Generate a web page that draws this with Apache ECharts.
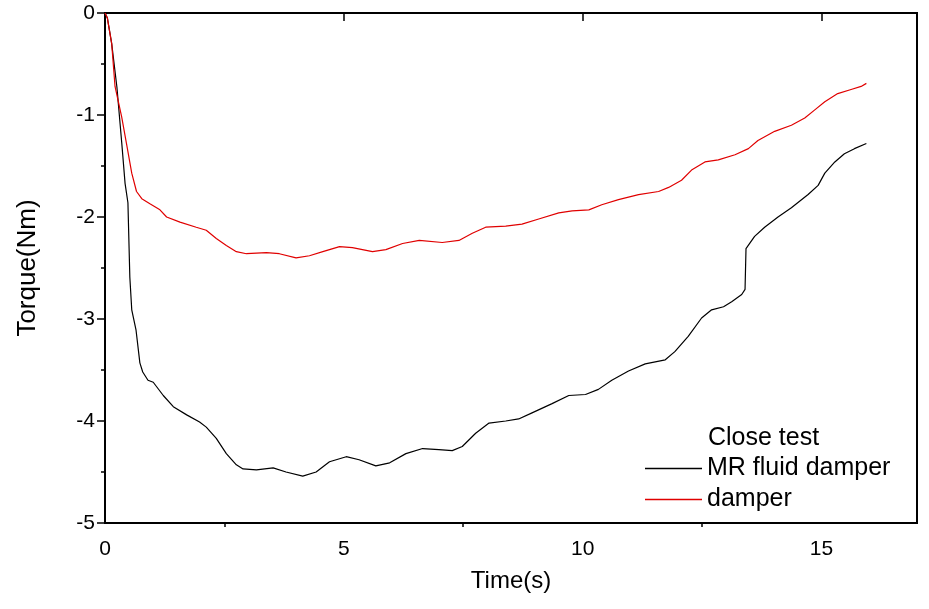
<!DOCTYPE html>
<html>
<head>
<meta charset="utf-8">
<script src="https://cdn.jsdelivr.net/npm/echarts@6/dist/echarts.min.js"></script>
<style>
html,body{margin:0;padding:0;background:#fff;}
#chart{width:929px;height:609px;}
</style>
</head>
<body>
<div id="chart"></div>
<script>
// ---- data ----
var mrTime = [0, 0.05, 0.14, 0.25, 0.35, 0.42, 0.48, 0.52, 0.56, 0.65, 0.73, 0.79, 0.9, 1.01, 1.22, 1.43, 1.71, 1.98, 2.12, 2.33, 2.54, 2.75, 2.89, 3.17, 3.52, 3.79, 4.14, 4.42, 4.70, 5.05, 5.32, 5.67, 5.96, 6.30, 6.65, 6.99, 7.27, 7.48, 7.76, 8.04, 8.39, 8.66, 8.94, 9.36, 9.71, 10.06, 10.33, 10.61, 10.96, 11.31, 11.73, 11.93, 12.21, 12.49, 12.70, 12.95, 13.12, 13.33, 13.40, 13.42, 13.60, 13.81, 14.09, 14.37, 14.72, 14.93, 15.07, 15.28, 15.48, 15.69, 15.94];
var mrTorque = [0, -0.05, -0.30, -0.73, -1.27, -1.67, -1.86, -2.59, -2.91, -3.11, -3.43, -3.52, -3.60, -3.62, -3.75, -3.86, -3.94, -4.01, -4.06, -4.17, -4.32, -4.43, -4.47, -4.48, -4.46, -4.50, -4.54, -4.50, -4.40, -4.35, -4.38, -4.44, -4.41, -4.32, -4.27, -4.28, -4.29, -4.25, -4.12, -4.02, -4.00, -3.98, -3.92, -3.83, -3.75, -3.74, -3.69, -3.60, -3.51, -3.44, -3.40, -3.32, -3.17, -2.99, -2.91, -2.88, -2.83, -2.76, -2.71, -2.31, -2.19, -2.10, -2.00, -1.91, -1.78, -1.69, -1.57, -1.46, -1.38, -1.33, -1.28];
var damperTime = [0, 0.05, 0.14, 0.21, 0.35, 0.45, 0.56, 0.66, 0.77, 0.94, 1.15, 1.29, 1.57, 1.91, 2.12, 2.33, 2.54, 2.75, 2.96, 3.38, 3.65, 4.00, 4.28, 4.56, 4.91, 5.18, 5.60, 5.88, 6.23, 6.58, 7.06, 7.41, 7.69, 7.97, 8.39, 8.73, 9.08, 9.50, 9.78, 10.13, 10.40, 10.75, 11.17, 11.59, 11.80, 12.07, 12.28, 12.56, 12.84, 13.19, 13.47, 13.67, 14.02, 14.37, 14.65, 14.86, 15.07, 15.34, 15.62, 15.83, 15.94];
var damperTorque = [0, -0.05, -0.30, -0.72, -1.02, -1.28, -1.57, -1.75, -1.82, -1.87, -1.93, -2.00, -2.05, -2.10, -2.13, -2.21, -2.28, -2.34, -2.36, -2.35, -2.36, -2.40, -2.38, -2.34, -2.29, -2.30, -2.34, -2.32, -2.26, -2.23, -2.25, -2.23, -2.16, -2.10, -2.09, -2.07, -2.02, -1.96, -1.94, -1.93, -1.88, -1.83, -1.78, -1.75, -1.71, -1.64, -1.54, -1.46, -1.44, -1.39, -1.33, -1.25, -1.16, -1.10, -1.03, -0.95, -0.87, -0.79, -0.75, -0.72, -0.69];
var xMajorTicks = [0, 5, 10, 15];
var xMinorTicks = [2.5, 7.5, 12.5];
var seriesNames = ['MR fluid damper', 'damper'];
var legendTitle = 'Close test';

function zip(a, b) { return a.map(function (v, i) { return [v, b[i]]; }); }

var FONT = 'Liberation Sans, Arial, sans-serif';
var chart = echarts.init(document.getElementById('chart'), null, {renderer: 'canvas'});
chart.setOption({
  animation: false,
  backgroundColor: '#fff',
  textStyle: {fontFamily: FONT},
  grid: {left: 105, right: 12, top: 13, bottom: 86, show: true, borderColor: '#000', borderWidth: 2},
  xAxis: [{
    type: 'value', min: 0, max: 17,
    name: 'Time(s)', nameLocation: 'middle', nameGap: 46,
    nameTextStyle: {fontSize: 24, color: '#000', fontFamily: FONT},
    axisLine: {show: true, lineStyle: {color: '#000', width: 2}},
    axisTick: {show: true, customValues: xMajorTicks, length: 8, lineStyle: {color: '#000', width: 1.5}},
    axisLabel: {customValues: xMajorTicks, fontSize: 21, color: '#000', margin: 16, fontFamily: FONT},
    splitLine: {show: false}
  }, {
    type: 'value', min: 0, max: 17, position: 'bottom',
    axisLine: {show: false},
    axisTick: {show: true, customValues: xMinorTicks, length: 4, lineStyle: {color: '#000', width: 1.5}},
    axisLabel: {show: false},
    splitLine: {show: false}
  }],
  yAxis: {
    type: 'value', min: -5, max: 0, interval: 1,
    name: 'Torque(Nm)', nameLocation: 'middle', nameGap: 64,
    nameTextStyle: {fontSize: 26, color: '#000', fontFamily: FONT},
    axisLine: {show: true, lineStyle: {color: '#000', width: 2}},
    axisTick: {show: true, length: 8, lineStyle: {color: '#000', width: 1.5}},
    minorTick: {show: true, splitNumber: 2, length: 4, lineStyle: {color: '#000', width: 1.5}},
    axisLabel: {fontSize: 21, color: '#000', margin: 10, fontFamily: FONT},
    splitLine: {show: false}
  },
  legend: {
    orient: 'vertical', left: 640, top: 451,
    itemWidth: 57, itemHeight: 1.5, itemGap: 6, icon: 'rect',
    textStyle: {fontSize: 25, color: '#000', fontFamily: FONT},
    data: seriesNames
  },
  graphic: [{
    type: 'text', left: 708, top: 426,
    style: {text: legendTitle, font: '25px ' + FONT, fill: '#000'}
  }],
  series: [{
    name: seriesNames[0], type: 'line', data: zip(mrTime, mrTorque),
    showSymbol: false, lineStyle: {color: '#000', width: 1.2}, itemStyle: {color: '#000'}
  }, {
    name: seriesNames[1], type: 'line', data: zip(damperTime, damperTorque),
    showSymbol: false, lineStyle: {color: '#e00000', width: 1.2}, itemStyle: {color: '#e00000'}
  }]
});
</script>
</body>
</html>
